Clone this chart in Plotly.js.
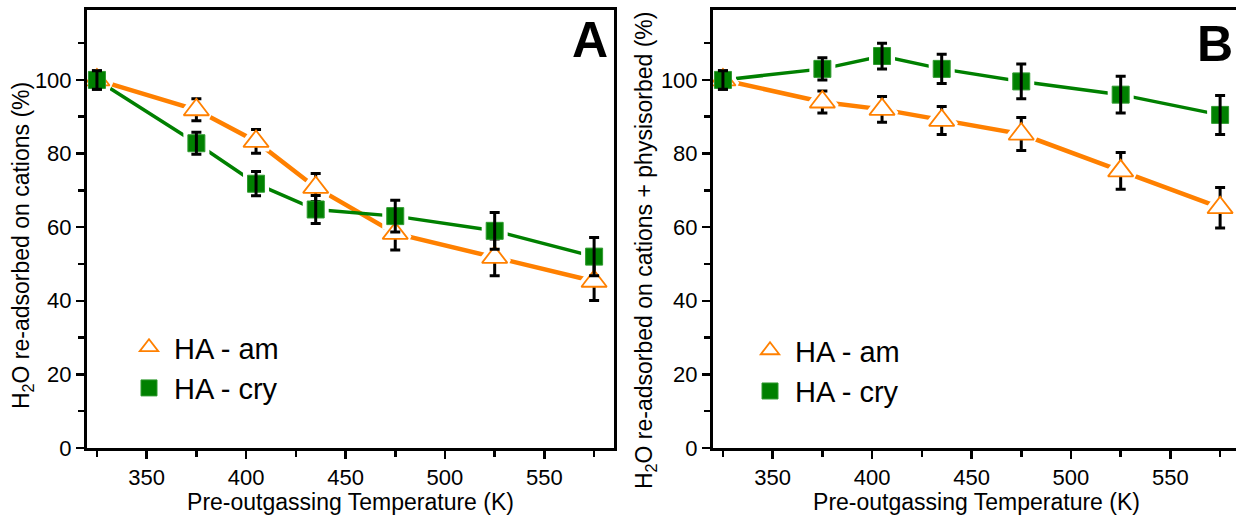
<!DOCTYPE html>
<html>
<head>
<meta charset="utf-8">
<script src="https://cdn.plot.ly/plotly-3.0.1.min.js"></script>
<style>
html, body { margin: 0; padding: 0; background: #fff; overflow: hidden; }
#chart { width: 1242px; height: 515px; }
</style>
</head>
<body>
<div id="chart"></div>
<script>
// Pre-outgassing temperatures (K)
const temps = [325, 375, 405, 435, 475, 525, 575];

// Panel A: H2O re-adsorbed on cations (%)
const aAm     = [100, 91.9, 83.3, 70.8, 58.3, 51.8, 45.3];
const aAmErr  = [2.5, 3.0, 3.2, 3.8, 4.5, 5.0, 5.2];
const aCry    = [100, 82.8, 71.8, 64.8, 63.0, 59.0, 52.0];
const aCryErr = [2.5, 3.0, 3.3, 3.8, 4.3, 5.0, 5.2];

// Panel B: H2O re-adsorbed on cations + physisorbed (%)
const bAm     = [100, 94.0, 92.0, 89.0, 85.3, 75.3, 65.3];
const bAmErr  = [2.5, 3.0, 3.5, 3.8, 4.5, 5.0, 5.5];
const bCry    = [100, 103.0, 106.5, 103.0, 99.6, 96.0, 90.5];
const bCryErr = [2.5, 3.0, 3.5, 4.0, 4.7, 5.0, 5.3];

const seriesNames = ['HA - am', 'HA - cry'];
const xTickVals = [350, 400, 450, 500, 550];
const xMinorVals = [325, 375, 425, 475, 525, 575];
const yTickVals = [0, 20, 40, 60, 80, 100];
const yMinorVals = [10, 30, 50, 70, 90, 110];
const xTitle = 'Pre-outgassing Temperature (K)';
const yTitleA = 'H<sub>2</sub>O re-adsorbed on cations (%)';
const yTitleB = 'H<sub>2</sub>O re-adsorbed on cations + physisorbed (%)';

const ORANGE = '#FF8000';
const GREEN = '#008000';
const FONT = 'Arial, "Liberation Sans", sans-serif';
const W = 1242;

function panelTraces(xa, ya, am, amErr, cry, cryErr, legendId) {
  return [
    {x: temps, y: am, xaxis: xa, yaxis: ya, mode: 'lines', showlegend: false, hoverinfo: 'skip',
     line: {color: ORANGE, width: 4.5}},
    {x: temps, y: cry, xaxis: xa, yaxis: ya, mode: 'lines', showlegend: false, hoverinfo: 'skip',
     line: {color: GREEN, width: 3.5}},
    {x: temps, y: am, xaxis: xa, yaxis: ya, mode: 'markers', showlegend: false, hoverinfo: 'skip',
     marker: {symbol: 'triangle-up', size: 22, color: '#fff', line: {color: '#fff', width: 9}}},
    {x: temps, y: cry, xaxis: xa, yaxis: ya, mode: 'markers', showlegend: false, hoverinfo: 'skip',
     marker: {symbol: 'square', size: 17, color: '#fff', line: {color: '#fff', width: 9}}},
    {x: temps, y: am, xaxis: xa, yaxis: ya, mode: 'markers', name: seriesNames[0], legend: legendId,
     error_y: {type: 'data', array: amErr, visible: true, color: '#000', thickness: 3, width: 5},
     marker: {symbol: 'triangle-up', size: 22, color: '#fff', line: {color: ORANGE, width: 1.8}}},
    {x: temps, y: cry, xaxis: xa, yaxis: ya, mode: 'markers', name: seriesNames[1], legend: legendId,
     marker: {symbol: 'square', size: 17, color: GREEN, line: {color: '#2f9a2f', width: 1}}},
    {x: temps, y: cry, xaxis: xa, yaxis: ya, mode: 'markers', showlegend: false, hoverinfo: 'skip',
     marker: {size: 1, opacity: 0},
     error_y: {type: 'data', array: cryErr, visible: true, color: '#000', thickness: 3, width: 5}}
  ];
}

const data = [
  ...panelTraces('x', 'y', aAm, aAmErr, aCry, aCryErr, 'legend'),
  ...panelTraces('x2', 'y2', bAm, bAmErr, bCry, bCryErr, 'legend2')
];

function xAxis(domain, anchor) {
  return {
    domain: domain, anchor: anchor, range: [320, 585],
    tickvals: xTickVals, ticks: 'outside', ticklen: 8, tickwidth: 2.5, tickcolor: '#000',
    minor: {tickvals: xMinorVals, ticks: 'outside', ticklen: 6, tickwidth: 2.5, tickcolor: '#000'},
    showline: true, linecolor: '#000', linewidth: 3, mirror: true,
    showgrid: false, zeroline: false,
    tickfont: {family: FONT, size: 22, color: '#000'},
    title: {text: xTitle, font: {family: FONT, size: 23, color: '#000'}, standoff: 0}
  };
}
function yAxis(anchor) {
  return {
    domain: [0, 1], anchor: anchor, range: [0, 119],
    tickvals: yTickVals, ticks: 'outside', ticklen: 8, tickwidth: 2.5, tickcolor: '#000',
    minor: {tickvals: yMinorVals, ticks: 'outside', ticklen: 6, tickwidth: 2.5, tickcolor: '#000'},
    showline: true, linecolor: '#000', linewidth: 3, mirror: true,
    showgrid: false, zeroline: false,
    tickfont: {family: FONT, size: 22, color: '#000'}
  };
}

const legendStyle = {
  font: {family: FONT, size: 29, color: '#000'},
  bgcolor: 'rgba(0,0,0,0)', borderwidth: 0,
  xanchor: 'left', yanchor: 'top', itemwidth: 40, tracegroupgap: 0
};

const layout = {
  width: W, height: 515,
  margin: {l: 0, r: 0, t: 10, b: 67},
  paper_bgcolor: '#fff', plot_bgcolor: '#fff',
  font: {family: FONT, color: '#000'},
  xaxis: xAxis([87 / W, 614 / W], 'y'),
  yaxis: yAxis('x'),
  xaxis2: xAxis([713 / W, 1240 / W], 'y2'),
  yaxis2: yAxis('x2'),
  legend: Object.assign({x: 124 / W, y: 0.288}, legendStyle),
  legend2: Object.assign({x: 745 / W, y: 0.281}, legendStyle),
  annotations: [
    {text: yTitleA, xref: 'paper', yref: 'paper', x: 22 / W, y: 0.461, textangle: -90,
     xanchor: 'center', yanchor: 'middle', showarrow: false, font: {family: FONT, size: 23, color: '#000'}},
    {text: yTitleB, xref: 'paper', yref: 'paper', x: 645 / W, y: 0.452, textangle: -90,
     xanchor: 'center', yanchor: 'middle', showarrow: false, font: {family: FONT, size: 23, color: '#000'}},
    {text: '<b>A</b>', xref: 'paper', yref: 'paper', x: 590 / W, y: (448 - 40) / 438,
     xanchor: 'center', yanchor: 'middle', showarrow: false, font: {family: FONT, size: 50, color: '#000'}},
    {text: '<b>B</b>', xref: 'paper', yref: 'paper', x: 1215 / W, y: (448 - 44) / 438,
     xanchor: 'center', yanchor: 'middle', showarrow: false, font: {family: FONT, size: 50, color: '#000'}}
  ],
  showlegend: true
};

Plotly.newPlot('chart', data, layout, {displayModeBar: false, staticPlot: true});
</script>
</body>
</html>
